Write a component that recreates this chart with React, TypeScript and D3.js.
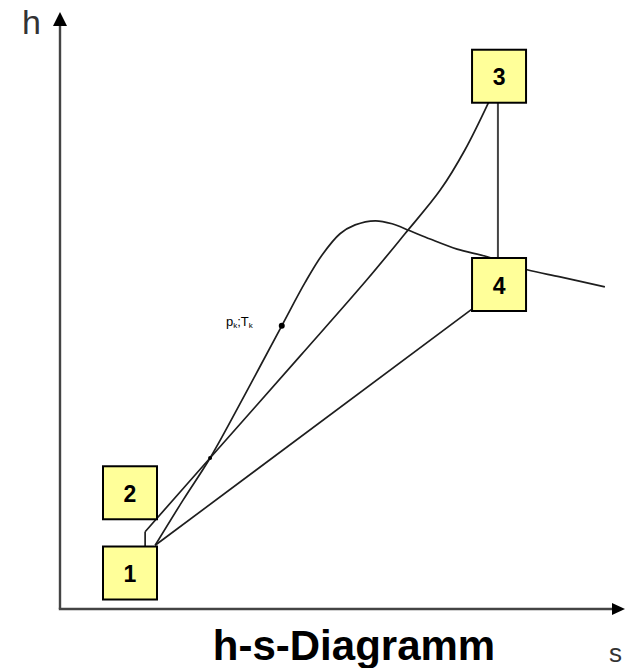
import React from "react";
import * as d3 from "d3";

// Saturation (dome) curve
const domeS = [1.70, 2.20, 2.68, 3.30, 3.96, 4.38, 4.68, 5.00, 5.27, 5.63, 5.93, 6.25, 6.61, 7.09, 7.63, 8.34, 8.93, 9.73];
const domeH = [1.08, 1.85, 2.56, 3.63, 4.80, 5.54, 6.00, 6.36, 6.51, 6.58, 6.53, 6.41, 6.27, 6.10, 5.97, 5.75, 5.63, 5.46];

// Process 2 -> 3
const stepS = [1.52, 1.52];
const stepH = [1.05, 1.31];
const compS = [1.52, 2.68, 4.29, 5.48, 6.16, 6.79, 7.23, 7.66];
const compH = [1.31, 2.56, 4.29, 5.58, 6.36, 7.10, 7.78, 8.60];

// Process 3 -> 4 and 4 -> 1
const expS = [7.82, 7.82];
const expH = [8.58, 5.95];
const rejS = [1.70, 7.38];
const rejH = [1.08, 5.10];

// States (boxes)
const stateLabels = ["1", "2", "3", "4"];
const stateS = [1.25, 1.25, 7.84, 7.84];
const stateH = [0.61, 1.97, 9.03, 5.50];

// Marked points
const critS = [3.96, 2.68];
const critH = [4.80, 2.56];
const critR = [3, 2];

const W = 625;
const H = 668;

export default function App() {
  const x = d3.scaleLinear().domain([0, 10]).range([60, 620]);
  const y = d3.scaleLinear().domain([0, 10]).range([609, 19]);

  const pts = (s: number[], h: number[]) => s.map((v, i) => [v, h[i]] as [number, number]);
  const smooth = d3.line<[number, number]>().x(d => x(d[0])).y(d => y(d[1])).curve(d3.curveCatmullRom.alpha(0.5));
  const straight = d3.line<[number, number]>().x(d => x(d[0])).y(d => y(d[1]));

  const lineColor = "#1e1e1e";
  const axisColor = "#444";
  const x0 = x(0), y0 = y(0);

  return (
    <svg width={W} height={H} style={{ position: "absolute", left: 0, top: 0, background: "#fff" }}>
      {/* axes */}
      <line x1={x0} y1={y0} x2={x0} y2={24} stroke={axisColor} strokeWidth={2.4} />
      <path d={`M${x0},12 L${x0 - 7},26 L${x0 + 7},26 Z`} fill="#000" />
      <line x1={x0 - 1.2} y1={y0} x2={614} y2={y0} stroke={axisColor} strokeWidth={2.4} />
      <path d={`M625,${y0} L612,${y0 - 6} L612,${y0 + 6} Z`} fill="#000" />
      <text x={22} y={34} fontFamily="Liberation Sans Narrow, Liberation Sans, Arial" fontSize={34} fill="#333">h</text>
      <text x={609} y={662} fontFamily="Liberation Sans Narrow, Liberation Sans, Arial" fontSize={26} fill="#333">s</text>

      {/* curves */}
      <path d={smooth(pts(domeS, domeH)) || ""} fill="none" stroke={lineColor} strokeWidth={1.7} />
      <path d={straight(pts(stepS, stepH)) || ""} fill="none" stroke={lineColor} strokeWidth={1.7} />
      <path d={smooth(pts(compS, compH)) || ""} fill="none" stroke={lineColor} strokeWidth={1.7} />
      <path d={straight(pts(rejS, rejH)) || ""} fill="none" stroke={lineColor} strokeWidth={1.7} />
      <path d={straight(pts(expS, expH)) || ""} fill="none" stroke="#444" strokeWidth={2} />

      {critS.map((s, i) => (
        <circle key={i} cx={x(s)} cy={y(critH[i])} r={critR[i]} fill="#000" />
      ))}
      <text x={226} y={326} fontFamily="Liberation Sans, Arial" fontSize={13} fill="#000">
        p<tspan fontSize={8} dy={2}>k</tspan><tspan fontSize={13} dy={-2}>;T</tspan><tspan fontSize={8} dy={2}>k</tspan>
      </text>

      {/* state boxes */}
      {stateLabels.map((lab, i) => {
        const cx = x(stateS[i]);
        const cy = y(stateH[i]);
        return (
          <g key={lab}>
            <rect x={cx - 27} y={cy - 26.5} width={54} height={53} fill="#FFFF99" stroke="#000" strokeWidth={2} />
            <text x={cx} y={cy + 9} textAnchor="middle" fontFamily="Liberation Sans, Arial" fontWeight="bold" fontSize={23} fill="#000">{lab}</text>
          </g>
        );
      })}

      <text x={354} y={660} textAnchor="middle" fontFamily="Liberation Sans, Arial" fontWeight="bold" fontSize={42} fill="#000">h-s-Diagramm</text>
    </svg>
  );
}
